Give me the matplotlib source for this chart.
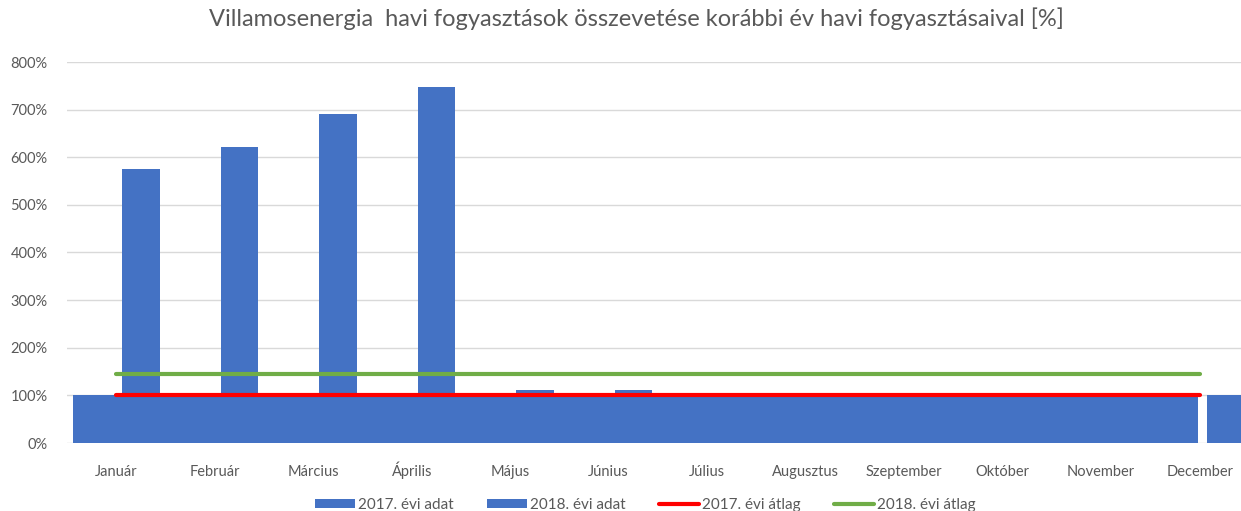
import numpy as np
import matplotlib.pyplot as plt
from matplotlib.ticker import FuncFormatter

months = ['Január', 'Február', 'Március', 'Április', 'Május', 'Június',
          'Július', 'Augusztus', 'Szeptember', 'Október', 'November', 'December']
adat_2017 = [100, 100, 100, 100, 100, 100, 100, 100, 100, 100, 100, 100]
adat_2018 = [575, 622, 690, 748, 111, 111, 101, 101, 106, 101, 101, np.nan]
atlag_2017 = 100
atlag_2018 = 145

blue = '#4472C4'
red = '#FF0000'
green = '#70AD47'
gray = '#595959'

plt.rcParams['font.family'] = ['Lato', 'DejaVu Sans']

fig = plt.figure(figsize=(12.41, 5.11), dpi=100)
ax = fig.add_axes([67 / 1241, 68 / 511, 1174 / 1241, 381 / 511])

x = np.arange(len(months))

# 2017 bars fill the category width (Dec slightly split off like in the original)
left_2017 = np.where(x < 11, -0.437 + 1.038 * x, 11.076)
b1 = ax.bar(left_2017, np.array(adat_2017) / 100, width=1.038, align='edge',
            color=blue, zorder=2, label='2017. évi adat')
b2 = ax.bar(x + 0.06, np.array(adat_2018) / 100, width=0.38, align='edge',
            color=blue, zorder=3, label='2018. évi adat')
l1, = ax.plot([x[0], x[-1]], [atlag_2017 / 100] * 2, color=red, lw=3,
              solid_capstyle='round', zorder=4, label='2017. évi átlag')
l2, = ax.plot([x[0], x[-1]], [atlag_2018 / 100] * 2, color=green, lw=3,
              solid_capstyle='round', zorder=4, label='2018. évi átlag')

ax.set_xlim(-0.5, 11.42)
ax.set_ylim(0, 8)
ax.set_yticks(np.arange(0, 9))
ax.yaxis.set_major_formatter(FuncFormatter(lambda v, p: '%d%%' % (v * 100)))
ax.set_xticks(x)
ax.set_xticklabels(months)
ax.grid(axis='y', color='#D9D9D9', lw=1, zorder=0)
ax.tick_params(length=0, labelsize=10.5, colors=gray)
ax.tick_params(axis='x', pad=24)
ax.tick_params(axis='y', pad=14)
for lab in ax.get_xticklabels():
    lab.set_va('baseline')
for s in ax.spines.values():
    s.set_visible(False)

fig.suptitle('Villamosenergia  havi fogyasztások összevetése korábbi év havi fogyasztásaival [%]',
             x=0.513, y=0.985, fontsize=17, color=gray)

fig.legend([b1, b2, l1, l2], [h.get_label() for h in [b1, b2, l1, l2]],
           loc='center', bbox_to_anchor=(0.52, 0.012), ncol=4, frameon=False,
           fontsize=11, labelcolor=gray, handlelength=2.6, handleheight=0.6,
           handletextpad=0.2, columnspacing=2.2)

fig.savefig('out.png', dpi=100)
